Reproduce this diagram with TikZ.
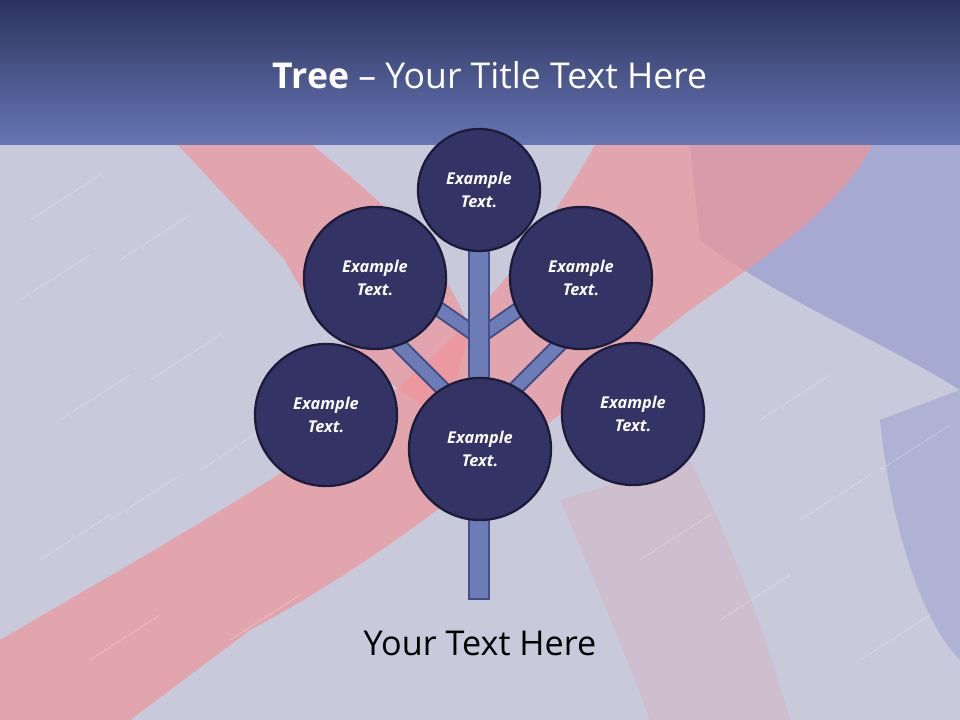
\documentclass[tikz,border=0pt]{standalone}
\usepackage{fontspec}
\setmainfont{Open Sans}
\usetikzlibrary{positioning}

\definecolor{bandtop}{HTML}{2D335E}
\definecolor{bandbot}{HTML}{6676B4}
\definecolor{canvasbg}{HTML}{C8C9DB}
\definecolor{paintcol}{HTML}{F09498}
\definecolor{bluecol}{HTML}{7880C6}
\definecolor{leafcol}{HTML}{333366}
\definecolor{leafrim}{HTML}{1C1C3A}
\definecolor{barkcol}{HTML}{6C7CB6}
\definecolor{barkrim}{HTML}{454F86}

\tikzset{
  leaf/.style    ={circle,draw=leafrim,fill=leafcol,line width=1.6pt,
                   inner sep=0pt,align=center,text=white,
                   font=\fontsize{11.6}{16.3}\selectfont\bfseries\itshape},
  leafS/.style   ={leaf,minimum size=3.05cm},
  leafL/.style   ={leaf,minimum size=3.55cm},
  twigrim/.style ={draw=barkrim,line width=0.40cm},
  twig/.style    ={draw=barkcol,line width=0.30cm},
  trunkrim/.style={draw=barkrim,line width=0.55cm},
  trunkin/.style ={draw=barkcol,line width=0.45cm},
  smear/.style   ={fill=paintcol,opacity=0.68},
  haze/.style    ={fill=bluecol,opacity=0.42},
  streak/.style  ={draw=white,opacity=0.35,line width=0.4pt},
  ttl/.style     ={text=white,font=\fontsize{25.3}{30}\selectfont},
  capn/.style    ={text=black,font=\fontsize{24.3}{29}\selectfont},
}

\begin{document}
\begin{tikzpicture}[x=0.025cm, y=-0.025cm]

\useasboundingbox (0,0) rectangle (960,720);

%% ---------------- backdrop ----------------
\fill[canvasbg] (0,145) rectangle (960,720);
\fill[haze] (690,145) -- (960,145) -- (960,390) .. controls (880,340) and (780,300) .. (700,240) -- cycle;
\fill[haze,opacity=0.3] (880,420) -- (960,390) -- (960,660) .. controls (920,620) and (890,520) .. cycle;
%% pink brush strokes
\fill[smear] (178,145) -- (312,145) .. controls (380,200) and (440,250) .. (470,330)
  -- (445,420) .. controls (380,380) and (320,330) .. (285,260) -- cycle;
\fill[smear] (595,145) -- (872,145) .. controls (840,210) and (760,260) .. (690,310)
  .. controls (560,410) and (420,540) .. (250,630) -- (130,720) -- (0,720) -- (0,640)
  .. controls (120,570) and (260,490) .. (330,440)
  .. controls (430,370) and (520,280) .. cycle;
\fill[smear,opacity=0.18] (560,500) -- (690,460) .. controls (740,560) and (770,650) .. (790,720)
  -- (650,720) .. controls (620,640) and (590,570) .. cycle;
%% fine light streaks
\foreach \sx/\sy in {20/300, 60/420, 110/520, 40/560, 150/380, 200/470, 230/640, 90/660,
                     640/560, 720/620, 800/520, 860/660, 760/420, 880/470, 30/220, 120/260}{
  \draw[streak] (\sx,\sy) -- ++(70,-45);
}

%% ---------------- title band ----------------
\shade[top color=bandtop,bottom color=bandbot] (0,0) rectangle (960,145);
\node[ttl] (title) at (490,75) {\textbf{Tree} – Your Title Text Here};

%% ---------------- branch points ----------------
\coordinate (jhi)   at (479,337);
\coordinate (jlo)   at (479,425);
\coordinate (twigl) at (420,296);
\coordinate (twigr) at (538,296);
\coordinate (limbl) at (360,306);
\coordinate (limbr) at (598,306);
\coordinate (crown) at (479,200);
\coordinate (root)  at (479,600);
\coordinate (rootin) at (479,598);

%% branches first, the trunk lies over them
\foreach \u/\v in {jhi/twigl, jhi/twigr, jlo/limbl, jlo/limbr}{
  \draw[twigrim] (\u) -- (\v);
  \draw[twig]    (\u) -- (\v);
}
\draw[trunkrim] (crown) -- (root);
\draw[trunkin]  (crown) -- (rootin);

%% ---------------- leaves ----------------
\node[leafS] (top) at (479,190) {Example\\Text.};
\node[leafL] (ul)  at (375,278) {Example\\Text.};
\node[leafL] (ur)  at (581,278) {Example\\Text.};
\node[leafL] (ll)  at (326,415) {Example\\Text.};
\node[leafL] (mid) at (480,449) {Example\\Text.};
\node[leafL] (lr)  at (633,414) {Example\\Text.};

\node[capn] (caption) at (480,643) {Your Text Here};

\end{tikzpicture}
\end{document}
